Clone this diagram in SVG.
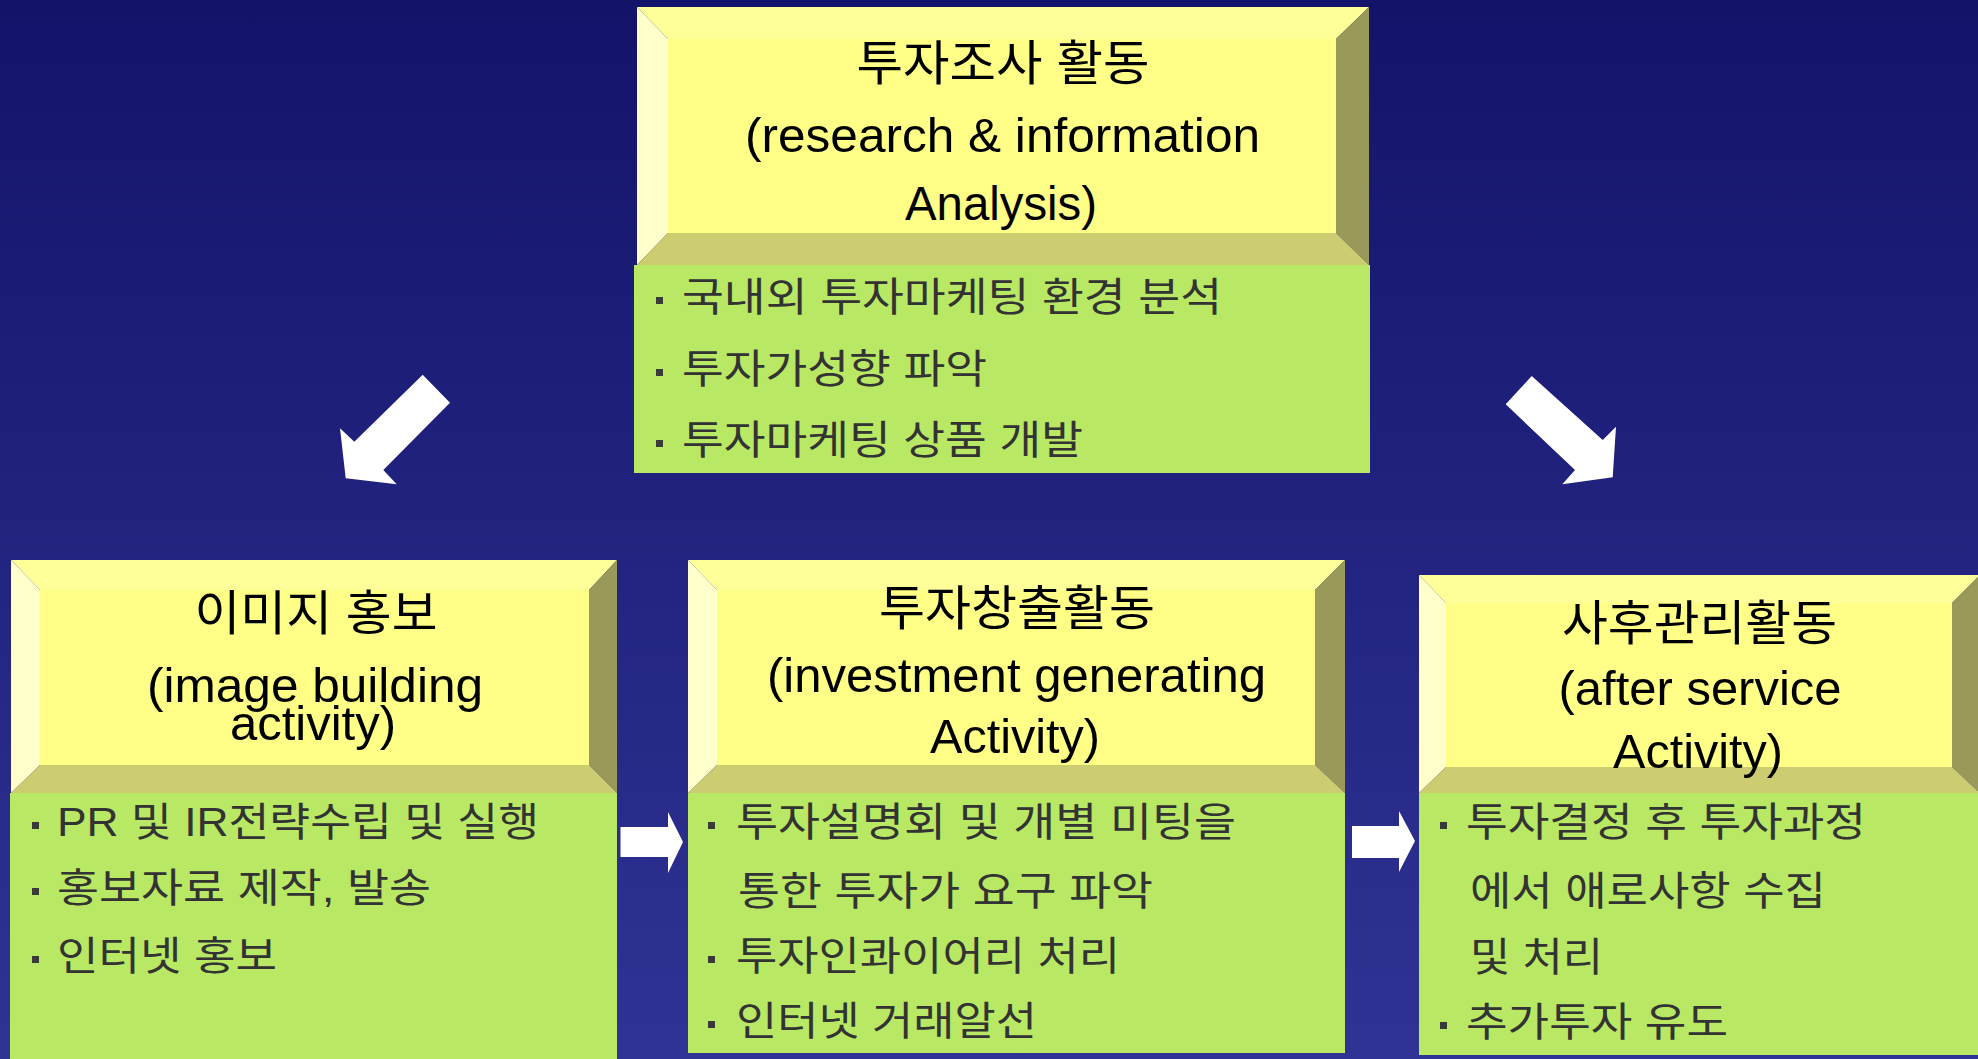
<svg xmlns="http://www.w3.org/2000/svg" width="1978" height="1059" viewBox="0 0 1978 1059">
  <defs>
    <linearGradient id="bgGrad" x1="0" y1="0" x2="0" y2="1">
      <stop offset="0" stop-color="#13136A"/>
      <stop offset="1" stop-color="#303394"/>
    </linearGradient>
    <style>
      .bt{fill:#FFFF9A}
      .bl{fill:#FFFFCC}
      .br{fill:#99995A}
      .bb{fill:#CCCC70}
      .bc{fill:#FFFF88}
      .green{fill:#B8E864}
      .title{font-family:"Liberation Sans","Noto Sans CJK KR",sans-serif;font-size:48px;fill:#000;text-anchor:middle}
      .item{font-family:"Liberation Sans","Noto Sans CJK KR",sans-serif;font-size:40px;fill:#333}
      .bullet{fill:#3A3A3A}
      .arrow{fill:#FFFFFF}
    </style>
  </defs>
  <rect x="0" y="0" width="1978" height="1059" fill="url(#bgGrad)"/>

  <g id="node-research">
    <polygon class="bt" points="637,7 1369,7 1336,39 668,39"/>
    <polygon class="bl" points="637,7 668,39 668,233 637,265"/>
    <polygon class="br" points="1369,7 1369,265 1336,233 1336,39"/>
    <polygon class="bb" points="637,265 668,233 1336,233 1369,265"/>
    <rect class="bc" x="668" y="39" width="668" height="194"/>
    <text class="title" x="1003" y="80" textLength="293" lengthAdjust="spacingAndGlyphs">투자조사 활동</text>
    <text class="title" x="1002.5" y="152" textLength="515" lengthAdjust="spacingAndGlyphs">(research &amp; information</text>
    <text class="title" x="1001" y="220" textLength="192" lengthAdjust="spacingAndGlyphs">Analysis)</text>
    <rect class="green" x="634" y="265" width="736" height="208"/>
    <rect class="bullet" x="656" y="297" width="7" height="7"/>
    <text class="item" x="682" y="311" textLength="540" lengthAdjust="spacingAndGlyphs">국내외 투자마케팅 환경 분석</text>
    <rect class="bullet" x="656" y="369" width="7" height="7"/>
    <text class="item" x="682" y="383" textLength="305" lengthAdjust="spacingAndGlyphs">투자가성향 파악</text>
    <rect class="bullet" x="656" y="440" width="7" height="7"/>
    <text class="item" x="682" y="454" textLength="401" lengthAdjust="spacingAndGlyphs">투자마케팅 상품 개발</text>
  </g>

  <g id="node-image">
    <polygon class="bt" points="11,560 617,560 589,590 40,590"/>
    <polygon class="bl" points="11,560 40,590 40,765 11,793"/>
    <polygon class="br" points="617,560 617,793 589,765 589,590"/>
    <polygon class="bb" points="11,793 40,765 589,765 617,793"/>
    <rect class="bc" x="40" y="590" width="549" height="175"/>
    <text class="title" x="316" y="630" textLength="243" lengthAdjust="spacingAndGlyphs">이미지 홍보</text>
    <text class="title" x="315" y="702" textLength="336" lengthAdjust="spacingAndGlyphs">(image building</text>
    <text class="title" x="313" y="740" textLength="166" lengthAdjust="spacingAndGlyphs">activity)</text>
    <rect class="green" x="10" y="793" width="607" height="270"/>
    <rect class="bullet" x="32" y="822" width="7" height="7"/>
    <text class="item" x="57" y="836" textLength="482" lengthAdjust="spacingAndGlyphs">PR 및 IR전략수립 및 실행</text>
    <rect class="bullet" x="32" y="888" width="7" height="7"/>
    <text class="item" x="57" y="902" textLength="374" lengthAdjust="spacingAndGlyphs">홍보자료 제작, 발송</text>
    <rect class="bullet" x="32" y="956" width="7" height="7"/>
    <text class="item" x="57" y="970" textLength="220" lengthAdjust="spacingAndGlyphs">인터넷 홍보</text>
  </g>

  <g id="node-invest">
    <polygon class="bt" points="688,560 1345,560 1315,590 717,590"/>
    <polygon class="bl" points="688,560 717,590 717,765 688,793"/>
    <polygon class="br" points="1345,560 1345,793 1315,765 1315,590"/>
    <polygon class="bb" points="688,793 717,765 1315,765 1345,793"/>
    <rect class="bc" x="717" y="590" width="598" height="175"/>
    <text class="title" x="1017" y="625" textLength="276" lengthAdjust="spacingAndGlyphs">투자창출활동</text>
    <text class="title" x="1016.5" y="692" textLength="499" lengthAdjust="spacingAndGlyphs">(investment generating</text>
    <text class="title" x="1015" y="753" textLength="170" lengthAdjust="spacingAndGlyphs">Activity)</text>
    <rect class="green" x="688" y="793" width="657" height="260"/>
    <rect class="bullet" x="708" y="822" width="7" height="7"/>
    <text class="item" x="736" y="836" textLength="500" lengthAdjust="spacingAndGlyphs">투자설명회 및 개별 미팅을</text>
    <text class="item" x="738" y="905" textLength="415" lengthAdjust="spacingAndGlyphs">통한 투자가 요구 파악</text>
    <rect class="bullet" x="708" y="956" width="7" height="7"/>
    <text class="item" x="736" y="970" textLength="384" lengthAdjust="spacingAndGlyphs">투자인콰이어리 처리</text>
    <rect class="bullet" x="708" y="1021" width="7" height="7"/>
    <text class="item" x="736" y="1035" textLength="301" lengthAdjust="spacingAndGlyphs">인터넷 거래알선</text>
  </g>

  <g id="node-after">
    <polygon class="bt" points="1419,575 1980,575 1952,603 1446,603"/>
    <polygon class="bl" points="1419,575 1446,603 1446,767 1419,793"/>
    <polygon class="br" points="1980,575 1980,793 1952,767 1952,603"/>
    <polygon class="bb" points="1419,793 1446,767 1952,767 1980,793"/>
    <rect class="bc" x="1446" y="603" width="506" height="164"/>
    <text class="title" x="1699.5" y="640" textLength="275" lengthAdjust="spacingAndGlyphs">사후관리활동</text>
    <text class="title" x="1700" y="705" textLength="283" lengthAdjust="spacingAndGlyphs">(after service</text>
    <text class="title" x="1698" y="768" textLength="170" lengthAdjust="spacingAndGlyphs">Activity)</text>
    <rect class="green" x="1419" y="793" width="561" height="262"/>
    <rect class="bullet" x="1440" y="822" width="7" height="7"/>
    <text class="item" x="1466" y="836" textLength="400" lengthAdjust="spacingAndGlyphs">투자결정 후 투자과정</text>
    <text class="item" x="1470" y="905" textLength="356" lengthAdjust="spacingAndGlyphs">에서 애로사항 수집</text>
    <text class="item" x="1470" y="971" textLength="133" lengthAdjust="spacingAndGlyphs">및 처리</text>
    <rect class="bullet" x="1440" y="1022" width="7" height="7"/>
    <text class="item" x="1466" y="1036" textLength="262" lengthAdjust="spacingAndGlyphs">추가투자 유도</text>
  </g>

  <g id="connectors">
    <polygon class="arrow" points="422.7,374.7 450,402.7 383.3,470 396.7,484.3 345.7,478.3 340,428.3 354.3,441.7"/>
    <polygon class="arrow" points="1531.7,376 1602.7,440 1616,426.7 1612.7,477.3 1562.3,484.3 1575,470 1505.7,404.3"/>
    <polygon class="arrow" points="620.5,827 668,827 668,812 683,842 668,873 668,857 620.5,857"/>
    <polygon class="arrow" points="1352,826 1399,826 1399,811 1415,841 1399,872 1399,858 1352,858"/>
  </g>
</svg>
